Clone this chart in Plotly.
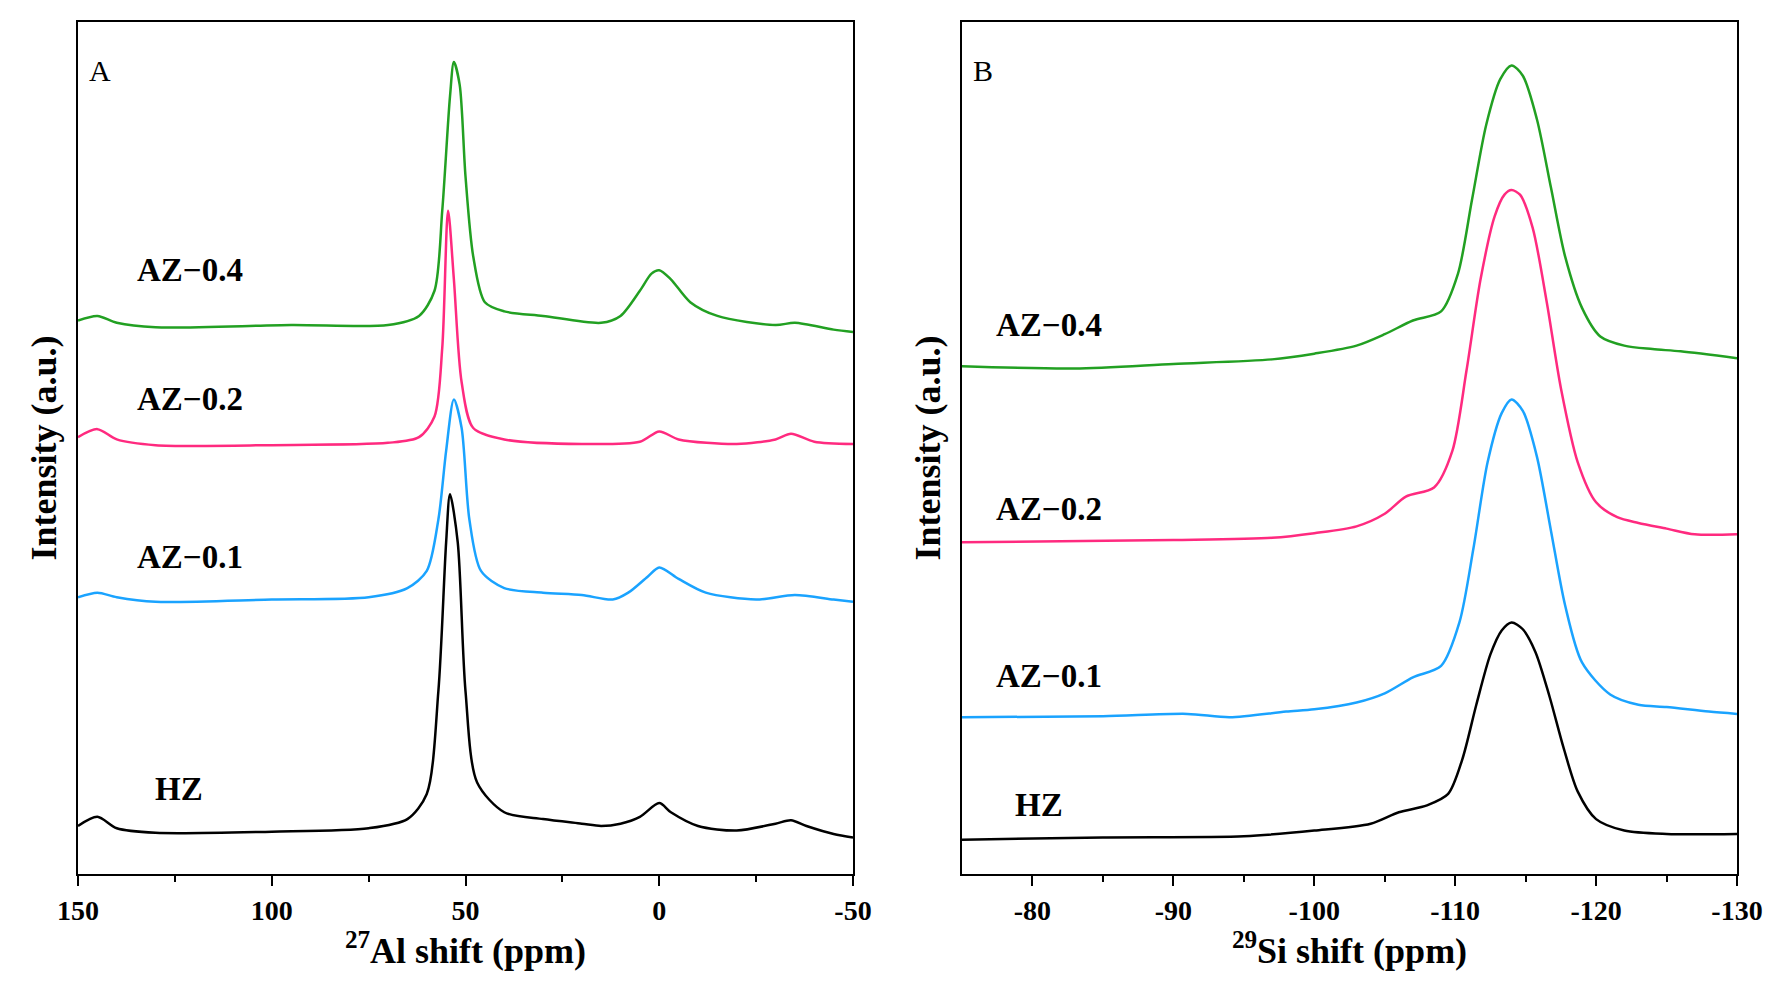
import plotly.graph_objects as go
from plotly.subplots import make_subplots

# Panel A (27Al) — values in arbitrary intensity units
al_hz_x = [150,145,140,130,100,75,65,60,57,55,54,52,50,47,40,30,20,15,10,5,0,-3,-10,-20,-30,-34,-38,-45,-50]
al_hz_y = [718,710,720,724,723,720,712,690,600,470,428,470,600,680,706,712,716,718,716,710,698,706,718,722,716,713,718,725,728]
al_01_x = [150,145,140,130,100,75,65,60,57,55,53,51,49,46,40,30,20,12,8,3,0,-5,-12,-25,-35,-45,-50]
al_01_y = [518,514,518,522,520,518,510,495,450,390,345,370,450,495,510,514,516,520,514,500,492,502,514,520,516,520,522]
al_02_x = [150,145,140,130,100,70,62,58,56,54.5,53,51,48,40,20,5,0,-5,-20,-30,-34,-40,-50]
al_02_y = [378,371,380,385,385,383,378,360,300,180,240,330,370,380,384,382,373,380,384,380,375,382,384]
al_04_x = [150,145,140,130,95,70,62,58,56,54,53,51.5,50,48,45,40,30,15,10,5,2,0,-3,-8,-15,-30,-35,-45,-50]
al_04_y = [276,272,278,282,280,280,272,250,180,80,50,70,150,220,260,268,272,278,272,250,235,232,240,260,272,280,278,284,286]

# Panel B (29Si)
si_hz_x = [-75,-85,-95,-100,-104,-106,-108,-109.5,-110.5,-111.5,-112.5,-113.3,-114,-114.8,-115.7,-116.7,-117.7,-118.7,-120,-122,-125,-130]
si_hz_y = [730,728,727,722,716,706,700,690,660,612,568,547,540,546,566,605,650,688,712,722,725,725]
si_01_x = [-75,-85,-91,-94,-98,-100,-103,-105,-107,-109,-110.3,-111.3,-112.3,-113.3,-114,-114.8,-115.8,-116.8,-117.8,-119,-121,-123,-125,-128,-130]
si_01_y = [623,622,620,623,618,616,610,602,588,578,540,475,400,357,345,355,395,460,525,575,603,612,614,618,620]
si_02_x = [-75,-90,-97,-100,-103,-105,-106.5,-108.5,-109.8,-110.8,-111.8,-112.8,-113.5,-114,-114.6,-115.5,-116.5,-117.5,-118.7,-120,-121.5,-123,-125,-127,-130]
si_02_y = [470,468,466,462,456,445,430,422,390,320,240,185,166,162,166,195,260,335,400,435,448,453,458,463,463]
si_04_x = [-75,-83,-90,-97,-100,-103,-105,-107,-109,-110.2,-111.2,-112.2,-113.2,-114,-114.8,-115.8,-116.8,-117.8,-119,-120.3,-122,-124,-126,-130]
si_04_y = [316,318,314,310,305,298,288,276,268,235,170,105,65,53,62,100,160,220,265,290,298,301,303,309]

names = ["HZ", "AZ\u22120.1", "AZ\u22120.2", "AZ\u22120.4"]
colors = ["#000000", "#1aa3ff", "#ff2a7f", "#22a022"]
labA_y = [686, 483, 345, 232]
labB_y = [700, 587, 441, 280]

H = 760
fig = make_subplots(rows=1, cols=2, horizontal_spacing=0.0657)
A = [(al_hz_x, al_hz_y), (al_01_x, al_01_y), (al_02_x, al_02_y), (al_04_x, al_04_y)]
B = [(si_hz_x, si_hz_y), (si_01_x, si_01_y), (si_02_x, si_02_y), (si_04_x, si_04_y)]
for (x, y), c in zip(A, colors):
    fig.add_trace(go.Scatter(x=x, y=[H - v for v in y], mode="lines", line=dict(color=c, width=2.5, shape="spline", smoothing=0.8), showlegend=False), 1, 1)
for (x, y), c in zip(B, colors):
    fig.add_trace(go.Scatter(x=x, y=[H - v for v in y], mode="lines", line=dict(color=c, width=2.5, shape="spline", smoothing=0.8), showlegend=False), 1, 2)

F = "Liberation Serif"
bold = dict(family=F, size=33, color="black")
for n, ya, yb in zip(names, labA_y, labB_y):
    fig.add_annotation(x=121 if n != "HZ" else 124, y=H - ya, text="<b>%s</b>" % n, showarrow=False, font=bold, xref="x", yref="y")
    fig.add_annotation(x=-81.2 if n != "HZ" else -80.5, y=H - yb, text="<b>%s</b>" % n, showarrow=False, font=bold, xref="x2", yref="y2")
fig.add_annotation(x=0.012, y=0.965, xref="x domain", yref="y domain", text="A", showarrow=False, font=dict(family=F, size=30, color="black"))
fig.add_annotation(x=0.012, y=0.965, xref="x2 domain", yref="y2 domain", text="B", showarrow=False, font=dict(family=F, size=30, color="black"))

ax = dict(showgrid=False, zeroline=False, showline=True, linecolor="black", linewidth=2, mirror=True,
          ticks="outside", ticklen=10, tickwidth=2, tickcolor="black",
          tickfont=dict(family=F, size=28, color="black"))
tf = dict(family=F, size=36, color="black")
fig.update_xaxes(**ax)
fig.update_xaxes(range=[150, -50], tickvals=[150, 100, 50, 0, -50], ticktext=["<b>150</b>", "<b>100</b>", "<b>50</b>", "<b>0</b>", "<b>-50</b>"],
                 minor=dict(tickvals=[125, 75, 25, -25], ticks="outside", ticklen=6, tickwidth=2, tickcolor="black"),
                 title=dict(text="<b><sup>27</sup>Al shift (ppm)</b>", font=tf, standoff=12), row=1, col=1)
fig.update_xaxes(range=[-75, -130], tickvals=[-80, -90, -100, -110, -120, -130],
                 ticktext=["<b>%d</b>" % v for v in [-80, -90, -100, -110, -120, -130]],
                 minor=dict(tickvals=[-85, -95, -105, -115, -125], ticks="outside", ticklen=6, tickwidth=2, tickcolor="black"),
                 title=dict(text="<b><sup>29</sup>Si shift (ppm)</b>", font=tf, standoff=12), row=1, col=2)
fig.update_yaxes(**ax)
fig.update_yaxes(range=[0, 745], ticks="", showticklabels=False,
                 title=dict(text="<b>Intensity (a.u.)</b>", font=tf, standoff=8))

fig.update_layout(width=1788, height=1000, plot_bgcolor="white", paper_bgcolor="white",
                  margin=dict(l=70, r=59, t=12, b=134))
fig.write_html("out.html")
